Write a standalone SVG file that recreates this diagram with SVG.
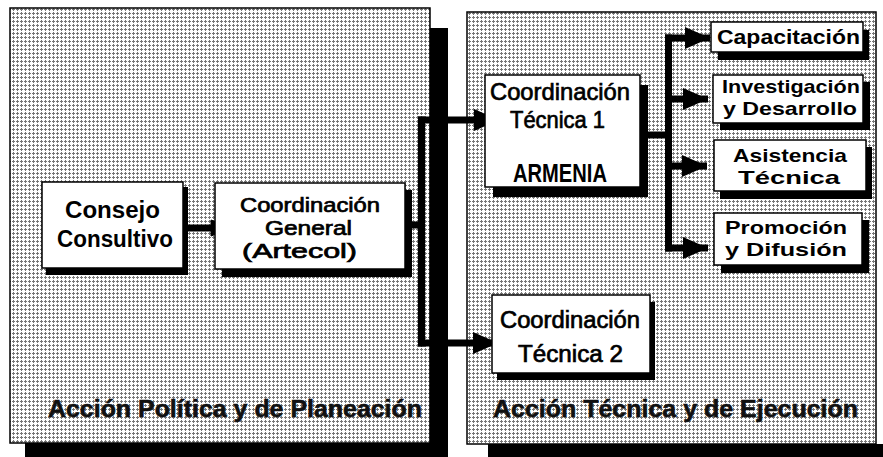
<svg xmlns="http://www.w3.org/2000/svg" width="883" height="457" viewBox="0 0 883 457">
<style>
.panel{fill:url(#dots);stroke:#000;stroke-width:1.5}
.sh{fill:#000}
.box{fill:#fff;stroke:#000;stroke-width:1.5}
.b{font-family:"Liberation Sans",Arial,sans-serif;font-weight:bold;fill:#000}
.r{font-family:"Liberation Sans",Arial,sans-serif;font-weight:normal;fill:#000;stroke:#000;stroke-width:0.7}
.lbl{font-family:"Liberation Sans",Arial,sans-serif;font-weight:bold;font-size:24px;fill:#111;stroke:#111;stroke-width:0.6}
.con{fill:none;stroke:#000;stroke-width:7}
</style>
<defs>
<pattern id="dots" width="4" height="4" patternUnits="userSpaceOnUse">
<rect width="4" height="4" fill="#fff"/>
<rect x="1" y="0" width="1" height="3" fill="#777"/>
<rect x="0" y="1" width="3" height="1" fill="#777"/>
</pattern>
<marker id="ah" markerUnits="userSpaceOnUse" markerWidth="25" markerHeight="22" refX="25" refY="11" orient="auto">
<path d="M0,0 L25,11 L0,22 Z" fill="#000"/>
</marker>
<marker id="ahs" markerUnits="userSpaceOnUse" markerWidth="24" markerHeight="18" refX="23" refY="9" orient="auto">
<path d="M1,1 L23,9 L1,17 Z" fill="#000" stroke="#000" stroke-width="1"/>
</marker>
</defs>

<g id="panel-left">
<rect class="sh" x="430" y="28" width="18" height="429"/>
<rect class="sh" x="25" y="443" width="423" height="14"/>
<rect class="panel" x="10" y="8" width="420" height="435"/>
<text class="lbl" x="48" y="417" textLength="374" lengthAdjust="spacingAndGlyphs">Acción Política y de Planeación</text>
</g>

<g id="panel-right">
<rect class="sh" x="488" y="444" width="395" height="13"/>
<rect class="panel" x="467" y="12" width="409" height="432"/>
<text class="lbl" x="493" y="417" textLength="365" lengthAdjust="spacingAndGlyphs">Acción Técnica y de Ejecución</text>
</g>

<g id="connectors">
<path class="con" d="M188,228 H233" stroke-width="6" marker-end="url(#ahs)"/>
<path class="con" d="M405,225 H424"/>
<path class="con" d="M421.5,116.5 V346.5"/>
<path class="con" d="M418,120 H499" marker-end="url(#ah)"/>
<path class="con" d="M418,343 H498" marker-end="url(#ah)"/>
<path class="con" d="M645,135 H672"/>
<path class="con" d="M668.5,34.5 V251.5"/>
<path class="con" d="M665,38 H710" marker-end="url(#ah)"/>
<path class="con" d="M665,99 H708" marker-end="url(#ah)"/>
<path class="con" d="M665,166 H707" marker-end="url(#ah)"/>
<path class="con" d="M665,248 H708" marker-end="url(#ah)"/>
</g>

<g id="consejo">
<rect class="sh" x="46" y="187" width="142" height="88"/>
<rect class="box" x="42" y="182" width="141" height="86"/>
<text class="b" font-size="23" x="65" y="218" textLength="95" lengthAdjust="spacingAndGlyphs">Consejo</text>
<text class="b" font-size="23" x="57" y="247" textLength="116" lengthAdjust="spacingAndGlyphs">Consultivo</text>
</g>

<g id="coord-general">
<rect class="sh" x="222" y="190" width="190" height="87"/>
<rect class="box" x="215" y="183" width="190" height="86"/>
<text class="r" font-size="20" x="240" y="212" textLength="140" lengthAdjust="spacingAndGlyphs">Coordinación</text>
<text class="r" font-size="20" x="265" y="235" textLength="87" lengthAdjust="spacingAndGlyphs">General</text>
<text class="r" font-size="20" x="242" y="258" textLength="115" lengthAdjust="spacingAndGlyphs">(Artecol)</text>
</g>

<g id="coord-tecnica-1">
<rect class="sh" x="493" y="85" width="155" height="112"/>
<rect class="box" x="485" y="75" width="155" height="112"/>
<text class="r" font-size="24" x="490" y="100" textLength="140" lengthAdjust="spacingAndGlyphs">Coordinación</text>
<text class="r" font-size="24" x="510" y="128" textLength="95" lengthAdjust="spacingAndGlyphs">Técnica 1</text>
<text class="b" font-size="26" x="513" y="182" textLength="94" lengthAdjust="spacingAndGlyphs">ARMENIA</text>
</g>

<g id="coord-tecnica-2">
<rect class="sh" x="497" y="302" width="158" height="78"/>
<rect class="box" x="492" y="295" width="158" height="78"/>
<text class="r" font-size="23" x="500" y="328" textLength="140" lengthAdjust="spacingAndGlyphs">Coordinación</text>
<text class="r" font-size="23" x="518" y="362" textLength="105" lengthAdjust="spacingAndGlyphs">Técnica  2</text>
</g>

<g id="capacitacion">
<rect class="sh" x="718" y="30" width="151" height="30"/>
<rect class="box" x="711" y="22" width="152" height="30"/>
<text class="b" font-size="21" x="717" y="44" textLength="143" lengthAdjust="spacingAndGlyphs">Capacitación</text>
</g>

<g id="investigacion">
<rect class="sh" x="720" y="82" width="150" height="48"/>
<rect class="box" x="713" y="75" width="150" height="48"/>
<text class="b" font-size="19" x="722" y="93" textLength="138" lengthAdjust="spacingAndGlyphs">Investigación</text>
<text class="b" font-size="19" x="723" y="115" textLength="134" lengthAdjust="spacingAndGlyphs">y Desarrollo</text>
</g>

<g id="asistencia">
<rect class="sh" x="720" y="147" width="152" height="52"/>
<rect class="box" x="714" y="140" width="152" height="51"/>
<text class="b" font-size="19" x="733" y="162" textLength="114" lengthAdjust="spacingAndGlyphs">Asistencia</text>
<text class="b" font-size="19" x="738" y="184" textLength="102" lengthAdjust="spacingAndGlyphs">Técnica</text>
</g>

<g id="promocion">
<rect class="sh" x="721" y="220" width="148" height="53"/>
<rect class="box" x="714" y="213" width="148" height="52"/>
<text class="b" font-size="19" x="725" y="234" textLength="122" lengthAdjust="spacingAndGlyphs">Promoción</text>
<text class="b" font-size="19" x="725" y="256" textLength="122" lengthAdjust="spacingAndGlyphs">y Difusión</text>
</g>
</svg>
